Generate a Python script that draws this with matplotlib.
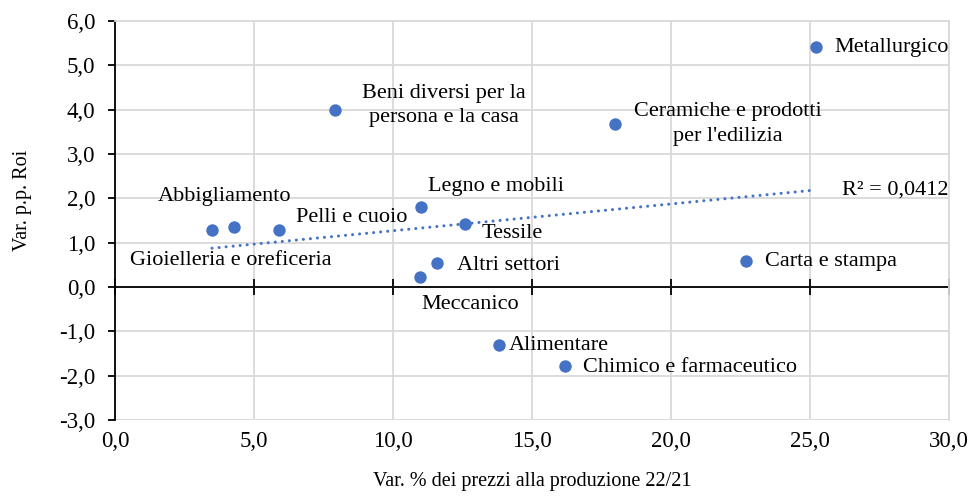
import numpy as np
import matplotlib
matplotlib.use("Agg")
import matplotlib.pyplot as plt

# ---- data ----
sectors = ["Abbigliamento", "Gioielleria e oreficeria", "Pelli e cuoio",
           "Beni diversi per la\npersona e la casa", "Legno e mobili", "Tessile",
           "Ceramiche e prodotti\nper l'edilizia", "Metallurgico", "Altri settori",
           "Meccanico", "Alimentare", "Chimico e farmaceutico", "Carta e stampa"]
price_var = [3.49, 4.28, 5.90, 7.90, 11.00, 12.60, 18.00, 25.20, 11.60, 10.97, 13.80, 16.20, 22.70]
roi_var = [1.29, 1.35, 1.29, 4.00, 1.81, 1.42, 3.68, 5.41, 0.54, 0.23, -1.30, -1.78, 0.59]
r2_label = "R² = 0,0412"
xticks = [0, 5, 10, 15, 20, 25, 30]
yticks = [-3, -2, -1, 0, 1, 2, 3, 4, 5, 6]

# label offsets in pixels (dx, dy downwards), alignment
label_style = {
    "Abbigliamento": (13, -33, "center"),
    "Gioielleria e oreficeria": (-3, 33, "center"),
    "Pelli e cuoio": (17, -12, "left"),
    "Beni diversi per la\npersona e la casa": (27, -4, "left"),
    "Legno e mobili": (75, -20, "center"),
    "Tessile": (16, 9, "left"),
    "Ceramiche e prodotti\nper l'edilizia": (19, 0, "left"),
    "Metallurgico": (19, 0, "left"),
    "Altri settori": (20, 2, "left"),
    "Meccanico": (50, 28, "center"),
    "Alimentare": (10, 1, "left"),
    "Chimico e farmaceutico": (18, 2, "left"),
    "Carta e stampa": (19, 1, "left"),
}

plt.rcParams['font.family'] = ['Liberation Serif', 'DejaVu Serif']
W, H = 975, 496
fig = plt.figure(figsize=(W / 100, H / 100), dpi=100)
L, R, T, B = 115, 949, 21, 420
ax = fig.add_axes([L / W, 1 - B / H, (R - L) / W, (B - T) / H])

blue = "#4472C4"
grid = "#d9d9d9"
px = 0.72  # points per pixel

ax.set_xlim(0, 30)
ax.set_ylim(-3, 6)
ax.set_xticks(xticks)
ax.set_yticks(yticks)
ax.grid(True, color=grid, linewidth=1.3)
ax.set_axisbelow(True)

for s in ["top", "right"]:
    ax.spines[s].set_color(grid)
    ax.spines[s].set_linewidth(1.3)
ax.spines["left"].set_color("black")
ax.spines["left"].set_linewidth(1.3)
ax.spines["bottom"].set_position(("data", 0))
ax.spines["bottom"].set_color("black")
ax.spines["bottom"].set_linewidth(1.3)
ax.spines["bottom"].set_zorder(1.5)
ax.tick_params(axis="x", direction="inout", length=11, width=1.3, labelbottom=False)
ax.tick_params(axis="y", direction="out", length=5, width=1.3, pad=9, labelsize=16.5)
ax.set_yticklabels([f"{v:.1f}".replace(".", ",") for v in yticks])

# bottom -3 gridline
ax.axhline(-3, color=grid, linewidth=1.3, zorder=0.5)

sec = ax.secondary_xaxis("bottom")
sec.set_xticks(xticks)
sec.set_xticklabels([f"{v:.1f}".replace(".", ",") for v in xticks])
sec.tick_params(length=0, pad=8, labelsize=16.5)
sec.spines["bottom"].set_visible(False)
sec.set_xlabel("Var. % dei prezzi alla produzione 22/21", fontsize=14.5, labelpad=14)

ax.set_ylabel("Var. p.p. Roi", fontsize=14.5)
ax.yaxis.set_label_coords((32 - L) / (R - L), (B - 200) / (B - T))

# scatter
ax.scatter(price_var, roi_var, s=80, color=blue, zorder=3, linewidths=0)

# trendline
xa = np.array(price_var)
ya = np.array(roi_var)
slope, intercept = np.polyfit(xa, ya, 1)
xs = np.array([xa.min(), xa.max()])
ax.plot(xs, slope * xs + intercept, color=blue, linewidth=2.2,
        linestyle=(0, (0.01, 2.3)), dash_capstyle="round", zorder=2)
ax.annotate(r2_label, (xa.max(), slope * xa.max() + intercept),
            xytext=(26 * px, 0), textcoords="offset points",
            ha="left", va="center", fontsize=16)

for name, x, y in zip(sectors, price_var, roi_var):
    dx, dy, ha = label_style[name]
    ax.annotate(name, (x, y), xytext=(dx * px, -dy * px), textcoords="offset points",
                ha=ha, va="center", fontsize=16, multialignment="center",
                linespacing=1.4, zorder=4)

fig.savefig("out.png", dpi=100)
